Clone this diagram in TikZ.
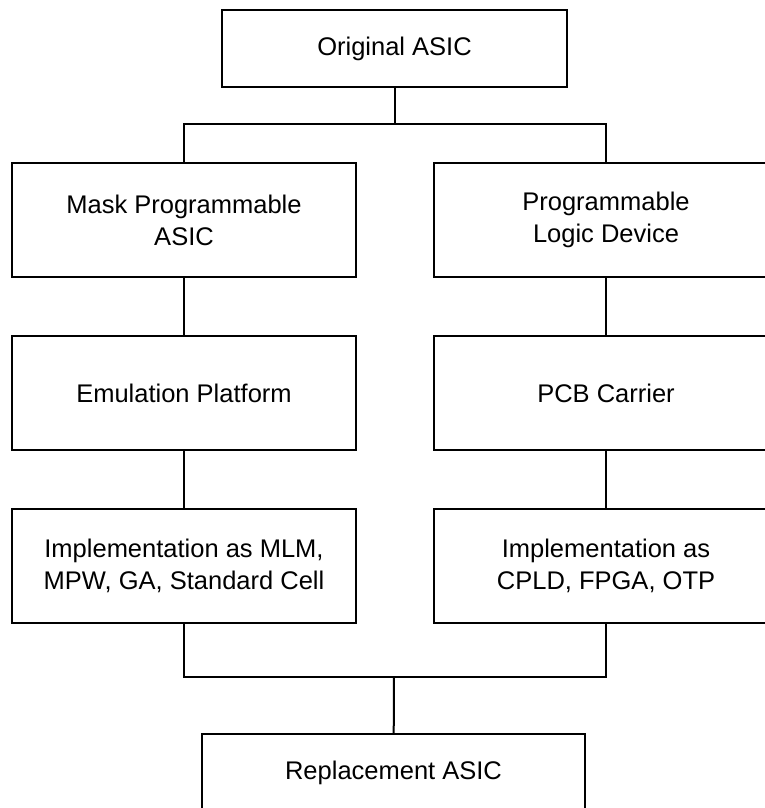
\documentclass[tikz,border=0pt]{standalone}
\usepackage{fontspec}
\setmainfont{Liberation Sans}
\usetikzlibrary{positioning}

\begin{document}
\begin{tikzpicture}[x=1pt, y=-1pt, node distance=57pt and 76pt,
    every node/.style={font=\fontsize{25.5}{32}\selectfont},
    box/.style={rectangle, draw, line width=2pt, minimum width=344pt, minimum height=114pt, inner sep=0pt, align=center},
    endbox/.style={box, minimum height=77pt},
    link/.style={line width=2pt}]

  \clip (0,0) rectangle (765,808);

  \node[box] (mask) at (184,220) {Mask Programmable\\ASIC};
  \node[box, right=of mask] (pld) {Programmable\\Logic Device};
  \node[box, below=of mask] (emu) {Emulation Platform};
  \node[box, below=of pld] (pcb) {PCB Carrier};
  \node[box, below=of emu] (mlm) {Implementation as MLM,\\MPW, GA, Standard Cell};
  \node[box, below=of pcb] (cpld) {Implementation as\\CPLD, FPGA, OTP};
  \node[endbox, minimum width=345pt] (orig) at (394.5,48.5) {Original ASIC};
  \node[endbox, minimum width=383pt] (repl) at (393.5,772.5) {Replacement ASIC};

  \coordinate (split) at (394.5,124);
  \coordinate (merge) at (394,677);

  \draw[link] (orig) -- (split);
  \draw[link] (mask.north) |- (split) -| (pld.north);
  \draw[link] (mask) -- (emu);
  \draw[link] (pld) -- (pcb);
  \draw[link] (emu) -- (mlm);
  \draw[link] (pcb) -- (cpld);
  \draw[link] (mlm.south) |- (merge) -| (cpld.south);
  \draw[link] (merge) -- (repl);
\end{tikzpicture}
\end{document}
